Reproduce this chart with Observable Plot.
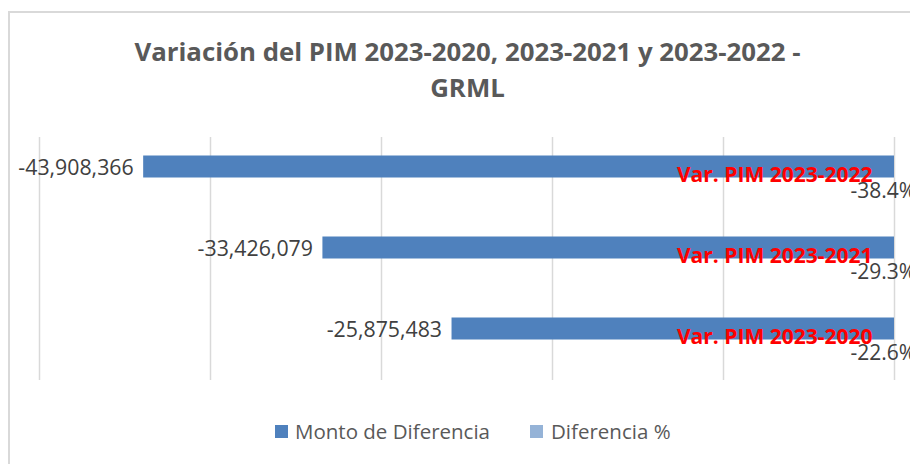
<!DOCTYPE html>
<html>
<head>
<meta charset="utf-8">
<script src="https://cdn.jsdelivr.net/npm/d3@7"></script>
<script src="https://cdn.jsdelivr.net/npm/@observablehq/plot@0.6"></script>
<style>
  html, body { margin: 0; padding: 0; background: #fff; }
  #wrap { position: relative; width: 910px; height: 464px; overflow: hidden; font-family: "Open Sans", sans-serif; background: #fff; }
  #frame { position: absolute; left: 8px; top: 11px; width: 1200px; height: 1000px; border: 2px solid #d9d9d9; box-sizing: border-box; pointer-events: none; z-index: 3; }
  #title { position: absolute; left: 0; top: 33px; width: 935px; text-align: center; font-size: 25.8px; font-weight: bold; line-height: 36px; color: #595959; z-index: 2; }
  #chart { position: absolute; left: 0; top: 125px; z-index: 1; }
  .lg { position: absolute; font-size: 20.5px; line-height: 20px; color: #595959; white-space: nowrap; z-index: 2; }
  .sw { position: absolute; width: 13px; height: 13px; z-index: 2; }
</style>
</head>
<body>
<div id="wrap">
  <div id="frame"></div>
  <div id="title">Variación del PIM 2023-2020, 2023-2021 y 2023-2022 -<br>GRML</div>
  <div id="chart"></div>
  <div id="legend"></div>
</div>
<script>
// ---- data ----
const categories = ["Var. PIM 2023-2022", "Var. PIM 2023-2021", "Var. PIM 2023-2020"];
const montoDiferencia = [-43908366, -33426079, -25875483];
const diferenciaPct = [-0.384, -0.293, -0.226];
const xTicks = [-50000000, -40000000, -30000000, -20000000, -10000000, 0];
const seriesNames = ["Monto de Diferencia", "Diferencia %"];
const seriesColors = ["#4F81BD", "#95B3D7"];

const data = categories.map((c, i) => ({cat: c, monto: montoDiferencia[i], pct: diferenciaPct[i]}));

const loc = d3.formatLocale({decimal: ".", thousands: ",", grouping: [3], currency: ["$", ""], minus: "-"});
const fmtNum = loc.format(",");
const fmtPct = loc.format(".1%");

const plot = Plot.plot({
  width: 910,
  height: 270,
  marginLeft: 39,
  marginRight: 16,
  marginTop: 12,
  marginBottom: 15,
  style: {background: "transparent", fontFamily: "Open Sans, sans-serif"},
  x: {domain: [-50000000, 0], axis: null},
  y: {domain: categories, padding: 0, axis: null},
  marks: [
    Plot.ruleX(xTicks, {stroke: "#d9d9d9", strokeWidth: 1.5}),
    Plot.barX(data, {x: "monto", y: "cat", fill: seriesColors[0], insetTop: 18.5, insetBottom: 40.5}),
    Plot.barX(data, {x: "pct", y: "cat", fill: seriesColors[1], insetTop: 40.5, insetBottom: 18.5}),
    Plot.text(data, {x: "monto", y: "cat", text: d => fmtNum(d.monto), textAnchor: "end", dx: -10, dy: -9.5, fontSize: 21.3, fill: "#404040"}),
    Plot.text(data, {x: 0, y: "cat", text: "cat", textAnchor: "end", dx: -22, dy: -2.5, fontSize: 21, fontWeight: "bold", fill: "#FF0000"}),
    Plot.text(data, {x: 0, y: "cat", text: d => fmtPct(d.pct), textAnchor: "start", dx: -44, dy: 13.5, fontSize: 21, fill: "#404040"})
  ]
});
document.getElementById("chart").appendChild(plot);

// legend
const legend = document.getElementById("legend");
const legendPos = [{sw: 275, tx: 295}, {sw: 530, tx: 551}];
seriesNames.forEach((name, i) => {
  const s = document.createElement("div");
  s.className = "sw";
  s.style.left = legendPos[i].sw + "px";
  s.style.top = "425px";
  s.style.background = seriesColors[i];
  legend.appendChild(s);
  const t = document.createElement("div");
  t.className = "lg";
  t.style.left = legendPos[i].tx + "px";
  t.style.top = "421px";
  t.textContent = name;
  legend.appendChild(t);
});
</script>
</body>
</html>
